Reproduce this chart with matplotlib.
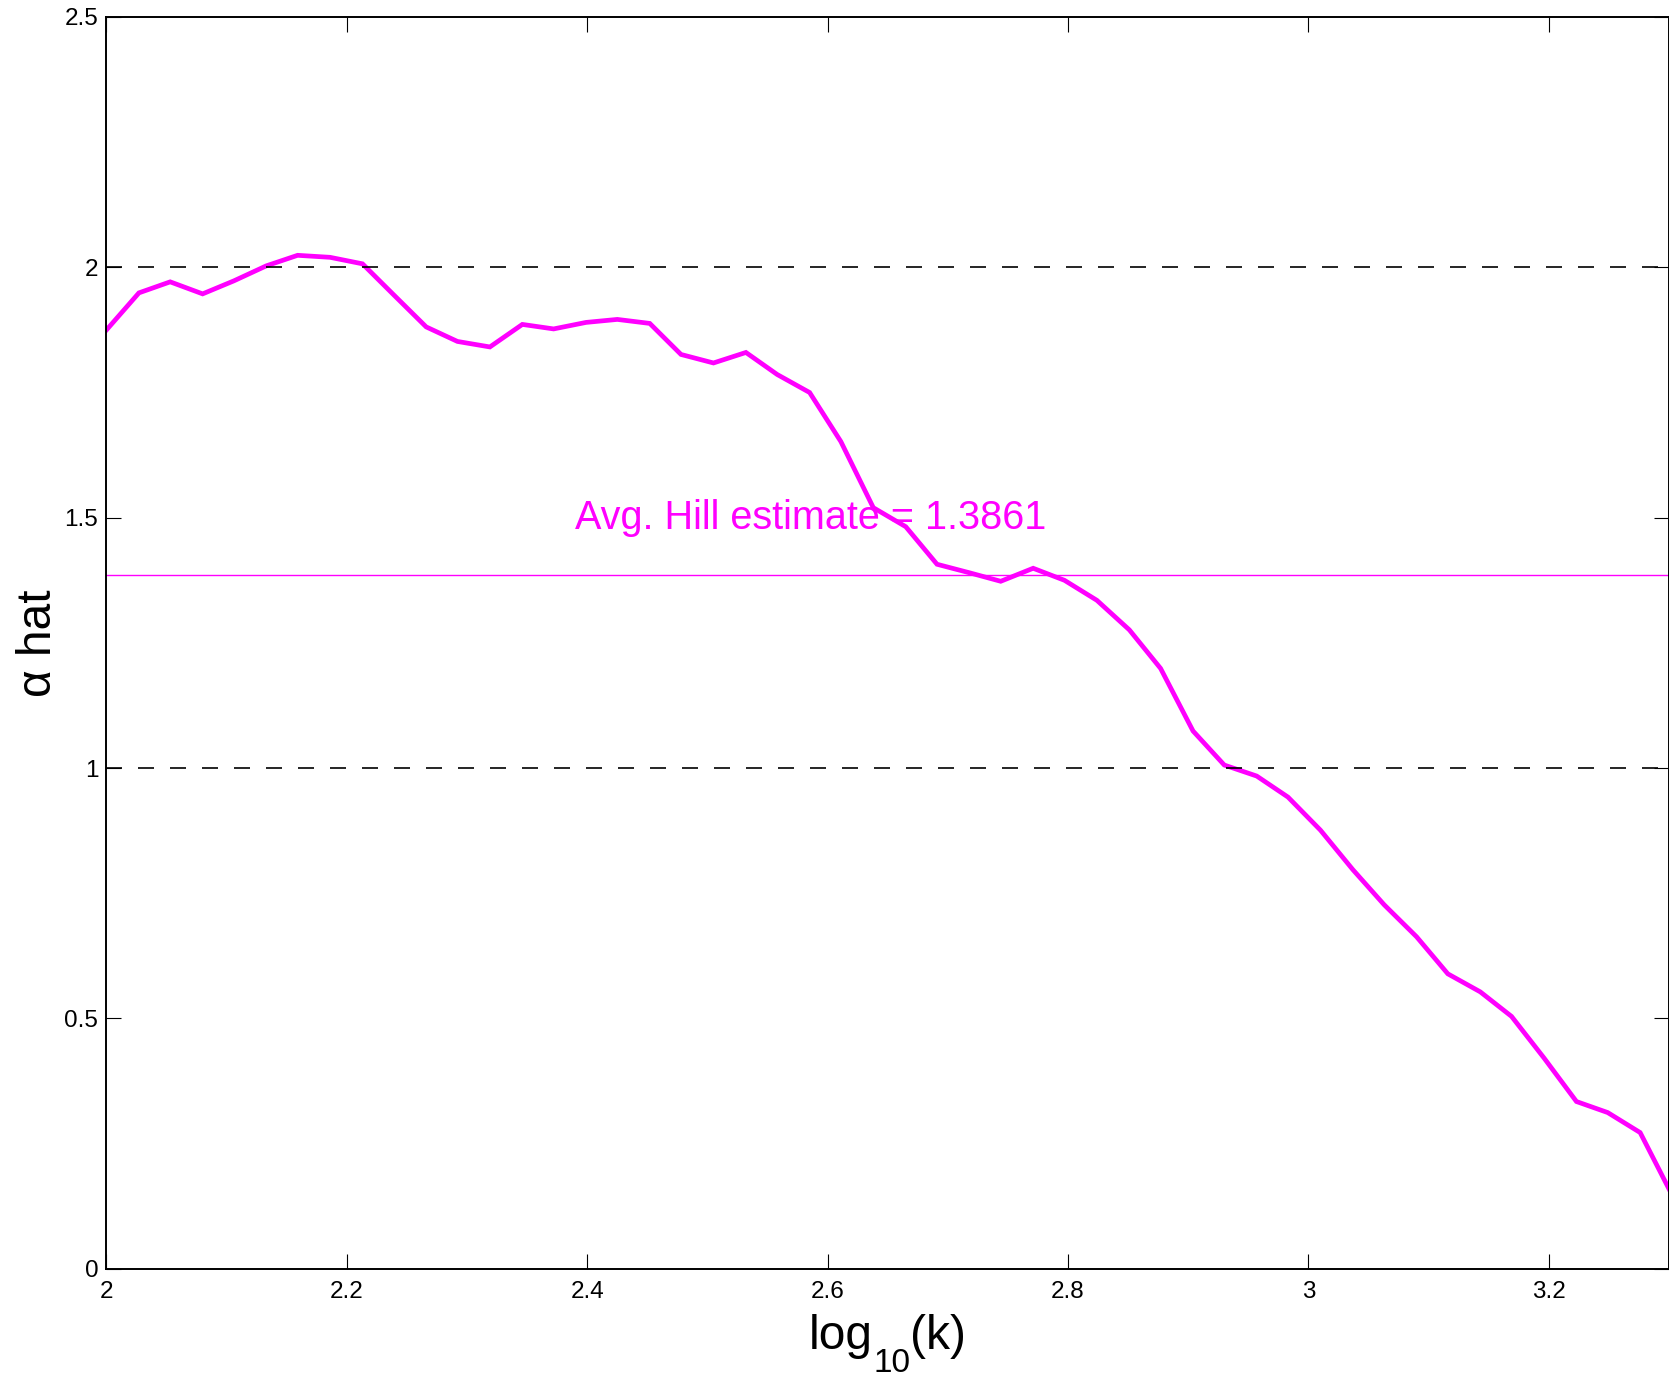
import matplotlib
matplotlib.use("Agg")
import matplotlib.pyplot as plt
from matplotlib.ticker import FormatStrFormatter

plt.rcParams["font.family"] = ["Liberation Sans", "DejaVu Sans"]

# Hill estimates vs log10(k)
log_k = [2.000, 2.027, 2.053, 2.080, 2.106, 2.133, 2.159, 2.186, 2.213, 2.239,
         2.266, 2.292, 2.319, 2.346, 2.372, 2.399, 2.425, 2.452, 2.478, 2.505,
         2.532, 2.558, 2.585, 2.611, 2.638, 2.665, 2.691, 2.718, 2.744, 2.771,
         2.797, 2.824, 2.851, 2.877, 2.904, 2.930, 2.957, 2.983, 3.010, 3.037,
         3.063, 3.090, 3.116, 3.143, 3.169, 3.196, 3.223, 3.249, 3.276, 3.302]
alpha_hat = [1.875, 1.949, 1.971, 1.947, 1.973, 2.003, 2.024, 2.020, 2.007, 1.945,
             1.881, 1.852, 1.841, 1.886, 1.877, 1.890, 1.896, 1.888, 1.826, 1.809,
             1.830, 1.786, 1.750, 1.652, 1.520, 1.482, 1.407, 1.390, 1.373, 1.399,
             1.375, 1.335, 1.276, 1.199, 1.074, 1.006, 0.984, 0.942, 0.876, 0.797,
             0.727, 0.663, 0.589, 0.553, 0.504, 0.421, 0.334, 0.312, 0.272, 0.150]
avg_hill = 1.3861
ref_levels = [1, 2]
x_ticks = [2, 2.2, 2.4, 2.6, 2.8, 3, 3.2]
y_ticks = [0, 0.5, 1, 1.5, 2, 2.5]

W, H = 1669, 1380
fig = plt.figure(figsize=(W / 100, H / 100), dpi=100)
ax = fig.add_axes([0.0638, 0.0806, 0.9362, 0.9071])

ax.plot(log_k, alpha_hat, color="#FF00FF", lw=3.4, solid_joinstyle="miter")
ax.axhline(avg_hill, color="#FF00FF", lw=1.0)
for lvl in ref_levels:
    ax.axhline(lvl, color="black", lw=1.2, dashes=(9.6, 9.6))
ax.text(2.39, 1.5, f"Avg. Hill estimate = {avg_hill:.4f}", color="#FF00FF",
        fontsize=28.5, ha="left", va="center")

ax.set_xlim(2, 3.3)
ax.set_ylim(0, 2.5)
ax.set_xticks(x_ticks)
ax.set_yticks(y_ticks)
ax.xaxis.set_major_formatter(FormatStrFormatter("%g"))
ax.yaxis.set_major_formatter(FormatStrFormatter("%g"))
ax.tick_params(direction="in", top=True, right=True, length=11, width=0.8,
               labelsize=17.5)
ax.tick_params(axis="x", pad=9)
ax.tick_params(axis="y", pad=6)
for s in ax.spines.values():
    s.set_linewidth(1.4)

ax.set_ylabel("α hat", fontsize=34.5)
ax.yaxis.set_label_coords(-0.029, 0.5)

# x label "log10(k)" with a low, MATLAB-style subscript, built piece by piece
renderer = fig.canvas.get_renderer()
x_px = 809
parts = [("log", 34.5, 31.0), ("10", 24.0, 8.3), ("(k)", 34.5, 31.0)]
for txt, size, base_px in parts:
    t = fig.text(x_px / W, base_px / H, txt, fontsize=size,
                 ha="left", va="baseline")
    x_px += t.get_window_extent(renderer).width

fig.savefig("out.png", dpi=100)
